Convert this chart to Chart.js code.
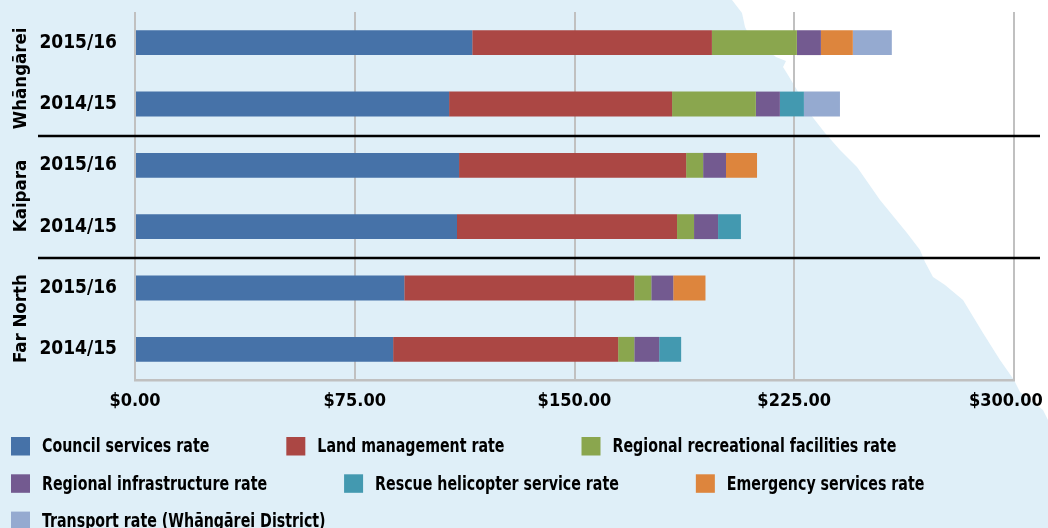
<!DOCTYPE html>
<html>
<head>
<meta charset="utf-8">
<script src="https://cdn.jsdelivr.net/npm/chart.js@4.4.1/dist/chart.umd.min.js"></script>
<style>
  html, body { margin: 0; padding: 0; background: #DFEFF8; }
  #wrap { width: 1048px; height: 528px; position: relative; }
</style>
</head>
<body>
<div id="wrap"><canvas id="c" width="1048" height="528"></canvas></div>
<script>
// ---- Data ----
const categories = ['2015/16', '2014/15', '2015/16', '2014/15', '2015/16', '2014/15'];
const groups = ['Whāngārei', 'Kaipara', 'Far North'];
const groupSize = [2, 2, 2];

const councilServices   = [115.1, 107.2, 110.6, 109.9, 91.9, 88.1];
const landManagement    = [81.8, 76.1, 77.5, 75.1, 78.5, 76.8];
const recreational      = [29.0, 28.6, 5.8, 5.8, 5.8, 5.5];
const infrastructure    = [8.2, 8.2, 7.8, 8.2, 7.5, 8.5];
const rescueHelicopter  = [null, 8.2, null, 7.8, null, 7.5];
const emergencyServices = [10.9, null, 10.6, null, 11.0, null];
const transport         = [13.3, 12.3, null, null, null, null];

const xTicks = [0, 75, 150, 225, 300];

const seriesNames = [
  'Council services rate', 'Land management rate', 'Regional recreational facilities rate',
  'Regional infrastructure rate', 'Rescue helicopter service rate', 'Emergency services rate',
  'Transport rate (Whāngārei District)'
];
const seriesValues = [councilServices, landManagement, recreational, infrastructure,
  rescueHelicopter, emergencyServices, transport];
const seriesColors = ['#4672A8', '#AB4744', '#8AA64E', '#735A90', '#4399B0', '#DD853D', '#95AAD0'];

const TICK_FONT = "'DejaVu Sans Condensed', 'DejaVu Sans', sans-serif";
const LEGEND_FONT = "'DejaVu Sans Condensed', 'DejaVu Sans', sans-serif";

// ---- Plugins ----
const background = {
  id: 'background',
  beforeDraw(chart) {
    const ctx = chart.ctx;
    ctx.save();
    ctx.fillStyle = '#DFEFF8';
    ctx.fillRect(0, 0, chart.width, chart.height);
    // decorative white landmass shape
    const pts = [[732,0],[1048,0],[1048,420],[1043,410],[1020,392],[1014,380],[1000,360],[983,333],
      [963,300],[945,285],[933,277],[925,262],[920,250],[907,233],[880,200],[857,167],[840,150],
      [825,133],[807,110],[797,90],[788,75],[783,67],[786,61],[776,57],[760,45],[748,33],[745,27],[742,13]];
    ctx.fillStyle = '#FFFFFF';
    ctx.beginPath();
    pts.forEach((p, i) => i ? ctx.lineTo(p[0], p[1]) : ctx.moveTo(p[0], p[1]));
    ctx.closePath();
    ctx.fill();
    ctx.restore();
  }
};

const groupsPlugin = {
  id: 'groupsPlugin',
  afterDraw(chart) {
    const ctx = chart.ctx;
    const y = chart.scales.y;
    ctx.save();
    // separators
    ctx.strokeStyle = '#000';
    ctx.lineWidth = 2.5;
    let idx = 0;
    const bounds = [];
    groupSize.forEach((n) => {
      bounds.push([idx - 0.5, idx + n - 0.5]);
      idx += n;
    });
    for (let g = 0; g < bounds.length - 1; g++) {
      const py = Math.round(y.getPixelForValue(bounds[g][1])) + 1;
      ctx.beginPath();
      ctx.moveTo(38, py);
      ctx.lineTo(1040, py);
      ctx.stroke();
    }
    // group labels
    ctx.fillStyle = '#000';
    ctx.font = "bold 18.5px " + TICK_FONT;
    ctx.textAlign = 'center';
    ctx.textBaseline = 'middle';
    groups.forEach((name, g) => {
      const mid = (y.getPixelForValue(bounds[g][0]) + y.getPixelForValue(bounds[g][1])) / 2;
      ctx.save();
      ctx.translate(21, mid + (g === 0 ? 5 : 0));
      ctx.rotate(-Math.PI / 2);
      ctx.fillText(name, 0, 0);
      ctx.restore();
    });
    // legend (condensed text)
    ctx.font = "bold 20px " + LEGEND_FONT;
    ctx.textAlign = 'left';
    const sx = 0.79;
    let x = 11, top = 437;
    const gap = 77, rowH = 37.3;
    chart.data.datasets.forEach((ds, i) => {
      const tw = ctx.measureText(ds.label).width * sx;
      const w = 31 + tw;
      if (i > 0 && x + w > chart.width) { x = 11; top += rowH; }
      ctx.fillStyle = ds.backgroundColor;
      ctx.fillRect(x, top, 19, 18.5);
      ctx.fillStyle = '#000';
      ctx.save();
      ctx.translate(x + 31, top + 10);
      ctx.scale(sx, 1);
      ctx.fillText(ds.label, 0, 0);
      ctx.restore();
      x += w + gap;
    });
    ctx.restore();
  }
};

new Chart(document.getElementById('c'), {
  type: 'bar',
  data: {
    labels: categories,
    datasets: seriesNames.map((name, i) => ({
      label: name,
      data: seriesValues[i],
      backgroundColor: seriesColors[i],
      borderWidth: 0,
      categoryPercentage: 1.0,
      barPercentage: 0.405
    }))
  },
  options: {
    indexAxis: 'y',
    responsive: false,
    animation: false,
    layout: { padding: { left: 0, right: 34, top: 12, bottom: 108 } },
    plugins: { legend: { display: false }, tooltip: { enabled: false }, title: { display: false } },
    scales: {
      x: {
        stacked: true,
        min: 0, max: 300,
        afterBuildTicks(scale) { scale.ticks = xTicks.map(v => ({ value: v })); },
        afterFit(scale) { scale.paddingLeft = 0; scale.paddingRight = 0; scale.height = 40; },
        grid: { color: '#C0C0C0', lineWidth: 2, drawTicks: false },
        border: { color: '#C0C0C0', width: 2.5 },
        ticks: {
          padding: 11,
          color: '#000',
          font: { family: TICK_FONT, size: 18, weight: 'bold' },
          callback: (v, i, arr) => '$' + Number(v).toFixed(2) + (i === arr.length - 1 ? '\u2002\u2002' : '')
        }
      },
      y: {
        stacked: true,
        afterFit(scale) { scale.width = 135; scale.paddingTop = 0; scale.paddingBottom = 0; },
        grid: { display: false, drawTicks: false },
        border: { display: false },
        ticks: {
          padding: 18,
          color: '#000',
          font: { family: TICK_FONT, size: 19, weight: 'bold' }
        }
      }
    }
  },
  plugins: [background, groupsPlugin]
});
</script>
</body>
</html>
